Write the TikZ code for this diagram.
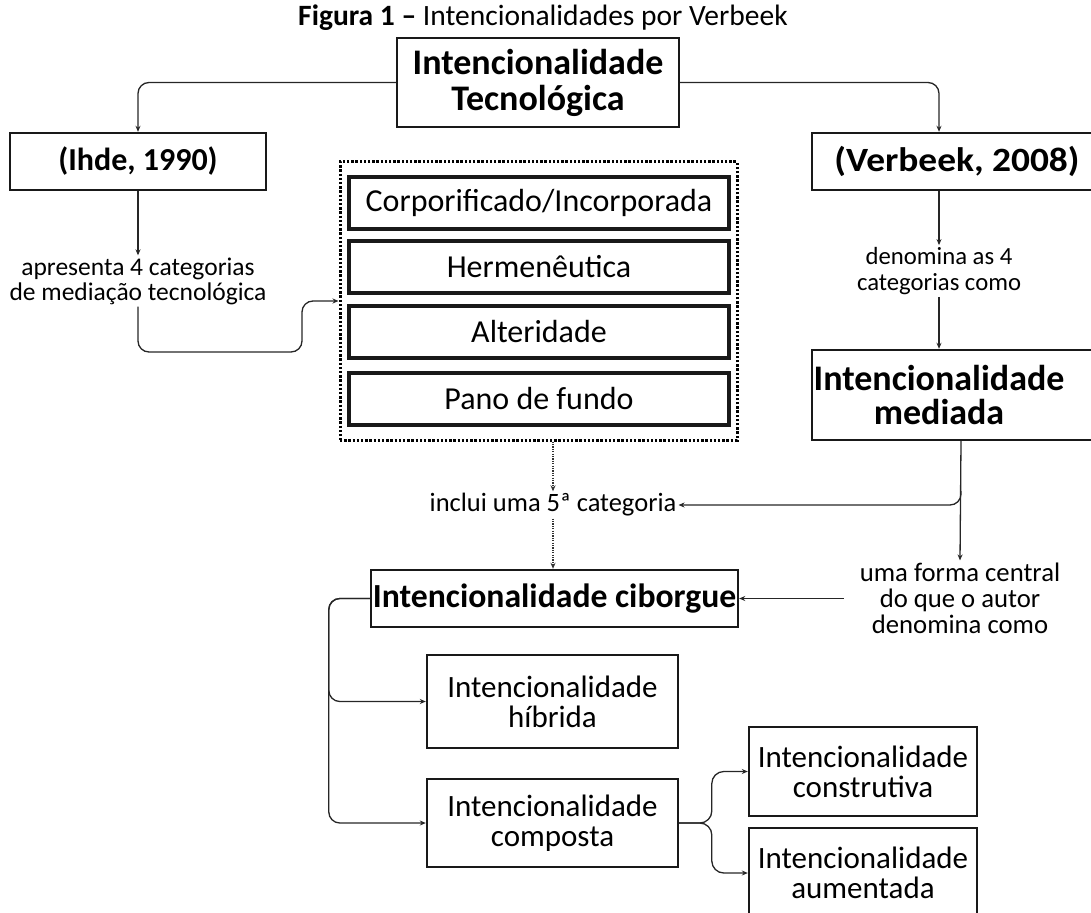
\documentclass[tikz,border=0pt]{standalone}
\usepackage{fontspec}
\setmainfont{Carlito}
\usetikzlibrary{arrows.meta,calc}
\newcommand{\fsz}[2]{\fontsize{#1pt}{#2pt}\selectfont}
\begin{document}
\begin{tikzpicture}[x=1pt,y=-1pt,
  conn/.style={draw=black!85, line width=1.3pt, -{Stealth[length=6pt,width=5pt]}, rounded corners=11pt},
  dconn/.style={draw=black!80, line width=1.2pt, dash pattern=on 1.2pt off 1.2pt, -{Stealth[length=6pt,width=5pt]}},
  box/.style={draw=black!90, line width=2.4pt, align=center, inner sep=0pt},
  catbox/.style={draw=black!90, line width=3.4pt, minimum width=380pt, minimum height=52pt, inner sep=0pt, font=\fsz{32}{35}},
  lab/.style={align=center, inner sep=2pt},
  bigb/.style={font=\bfseries\fsz{36}{36}},
  reg/.style={font=\fsz{31}{30}}
]
\useasboundingbox (0,0) rectangle (1091,912);
\clip (0,0) rectangle (1091,912);

\node[font=\fsz{29.5}{30}] (title) at (543,18) {\textbf{Figura 1 –} Intencionalidades por Verbeek};

\node[box, bigb, minimum width=282pt, minimum height=89pt] (T) at (538,82.5) {Intencionalidade\\Tecnológica};
\node[box, font=\bfseries\fsz{32}{36}, minimum width=256pt, minimum height=57pt] (ihde) at (138,161.5) {(Ihde, 1990)};
\node[box, font=\bfseries\fsz{34}{36}, minimum width=298pt, minimum height=57pt] (verb) at (961,161.5) {\hspace*{-8pt}\scalebox{1.1}[1]{(Verbeek, 2008)}};

\node[lab, font=\fsz{25.5}{25}] (ap) at (138,281) {apresenta 4 categorias\\de mediação tecnológica};

\node[draw=black, line width=3pt, dash pattern=on 2.4pt off 1.8pt, minimum width=397pt, minimum height=278pt] (dot) at (538.5,301) {};
\node[catbox] (c1) at (539,203) {Corporificado/Incorporada};
\node[catbox] (c2) at (539,267) {Hermenêutica};
\node[catbox] (c3) at (539,332) {Alteridade};
\node[catbox] (c4) at (539,399) {Pano de fundo};

\node[lab, font=\fsz{24.7}{26}] (den) at (939,271) {denomina as 4\\categorias como};
\node[box, minimum width=298pt, minimum height=90pt] (med) at (961,395) {};
\node[align=center, inner sep=0pt, font=\bfseries\fsz{36}{34}] (medt) at (939,395) {Intencionalidade\\mediada};

\node[lab, font=\fsz{26.5}{26}] (inc) at (553,505) {inclui uma 5ª categoria};
\node[lab, font=\fsz{26.7}{26}] (uma) at (960,598) {uma forma central\\do que o autor\\denomina como};

\node[box, font=\bfseries\fsz{33.7}{36}, minimum width=367pt, minimum height=57pt] (cib) at (554.5,598.5) {Intencionalidade ciborgue};
\node[box, reg, minimum width=251pt, minimum height=93pt] (hib) at (552.5,701.5) {Intencionalidade\\híbrida};
\node[box, reg, minimum width=251pt, minimum height=88pt] (comp) at (552.5,823) {Intencionalidade\\composta};
\node[box, reg, minimum width=228pt, minimum height=89pt] (cons) at (863,771.5) {Intencionalidade\\construtiva};
\node[box, reg, minimum width=228pt, minimum height=90pt] (aum) at (863,873) {Intencionalidade\\aumentada};

% connectors
\draw[conn] (T.west) -| (ihde.north);
\draw[conn] (T.east) -| (den.north |- verb.north);
\draw[conn] (ihde.south) -- (ap.north);
\coordinate (apb) at (302,352);
\draw[conn] (ap.south) |- (apb) |- (dot.west);
\draw[conn] (den.north |- verb.south) -- (den.north);
\draw[conn] (den.south) -- (den.south |- med.north);
\draw[conn] (med.south) -- (uma.north);
\coordinate (br) at ($(med.south)+(0,50)$);
\draw[conn] (br) |- (inc.east);
\draw[dconn] (inc.north |- dot.south) -- (inc.north);
\draw[dconn] (inc.south) -- (inc.south |- cib.north);
\draw[conn] ([xshift=-14pt]uma.west |- cib.east) -- (cib.east);
\draw[conn] (cib.west) -| ([xshift=-97pt]hib.west) -- (hib.west);
\draw[conn] (cib.west) -| ([xshift=-97pt]comp.west) -- (comp.west);
\draw[conn, rounded corners=12pt] (comp.east) -| ([xshift=-36pt]cons.west) -- (cons.west);
\draw[conn, rounded corners=12pt] (comp.east) -| ([xshift=-36pt]aum.west) -- (aum.west);
\end{tikzpicture}
\end{document}
